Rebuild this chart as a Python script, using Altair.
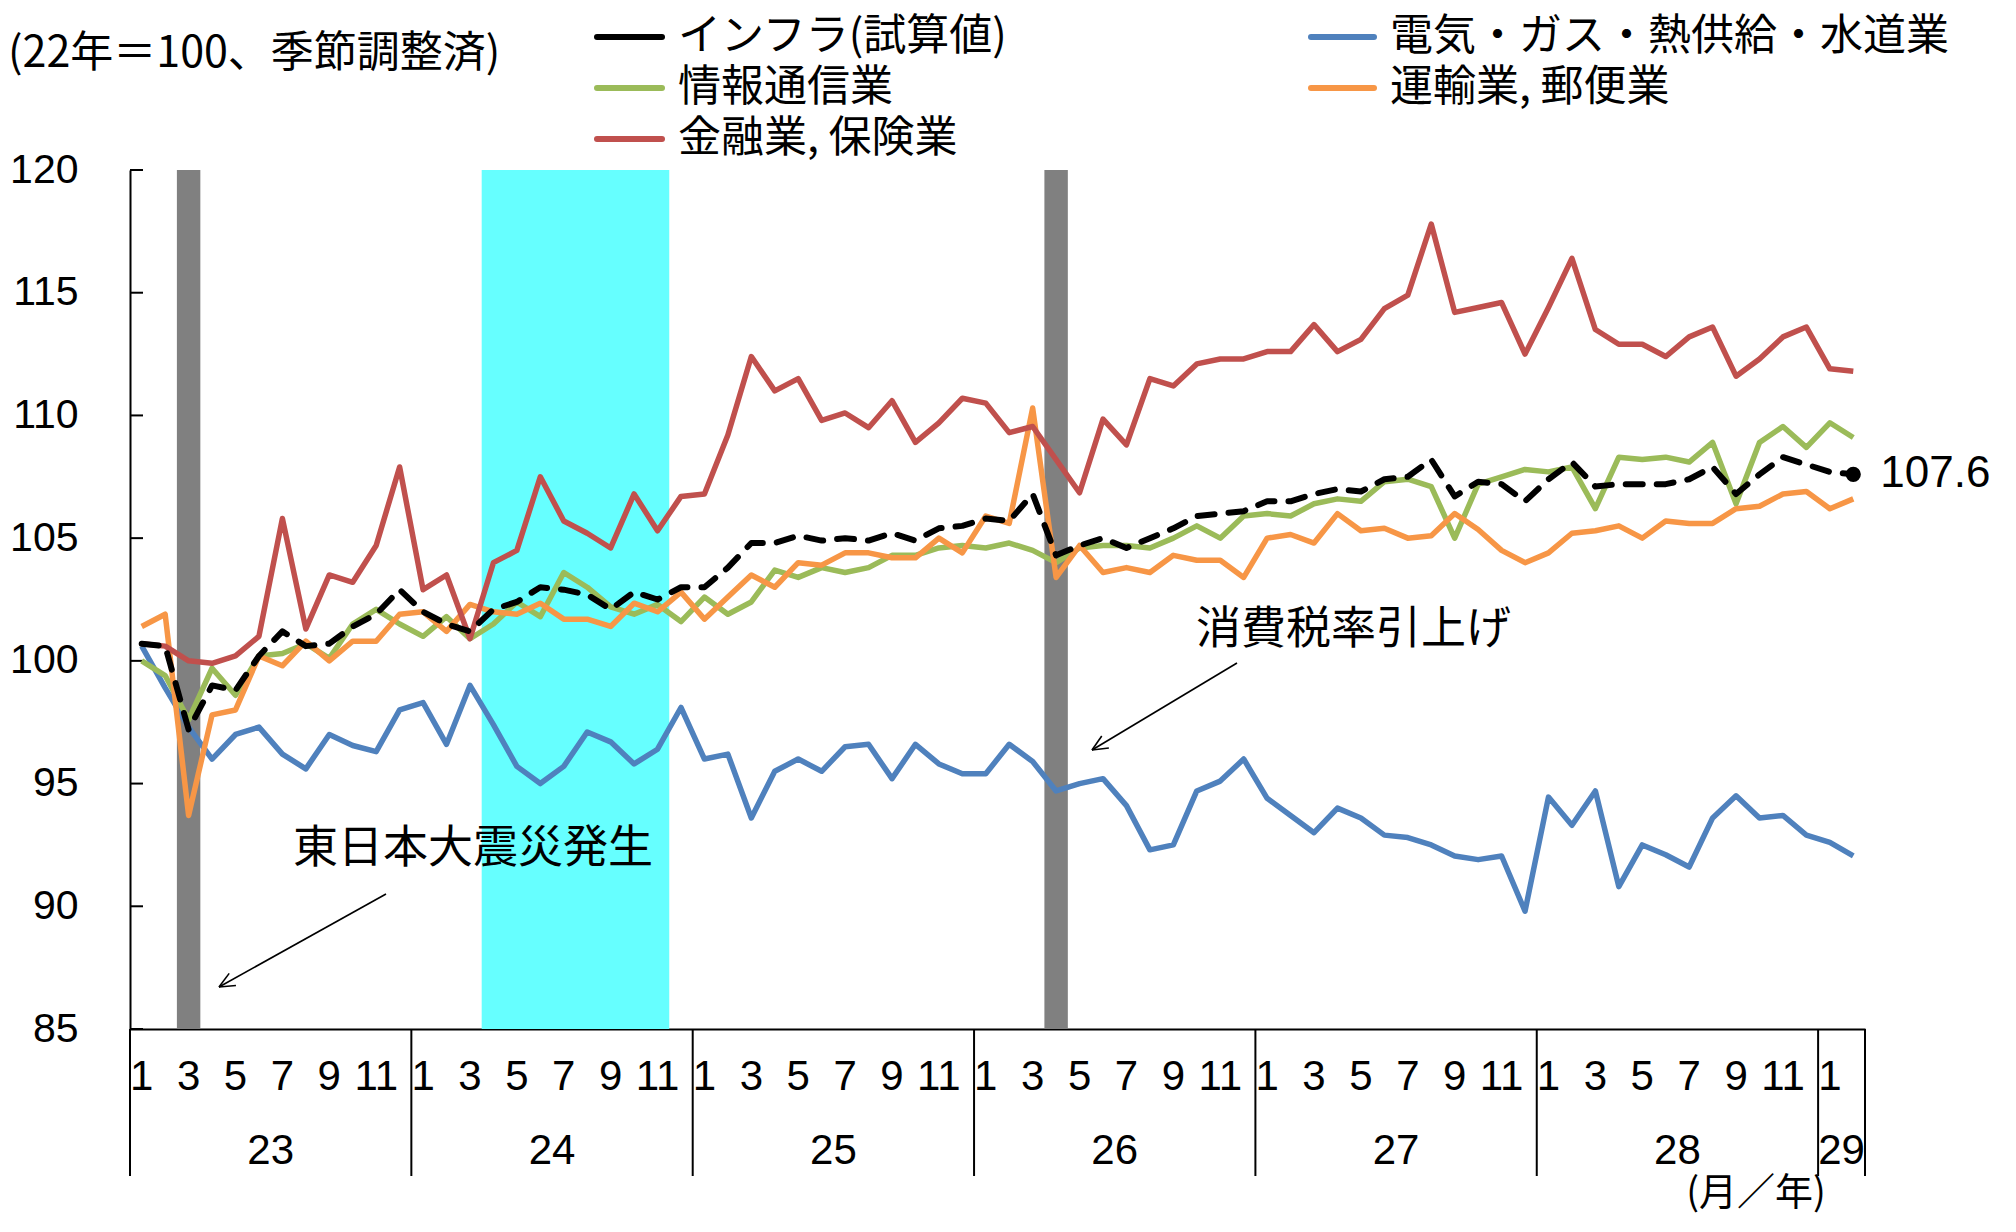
import math
import altair as alt
import pandas as pd

# ---------------- data ----------------
year_labels = ["23", "24", "25", "26", "27", "28", "29"]
month_labels = ["1", "3", "5", "7", "9", "11"]
y_ticks = [85, 90, 95, 100, 105, 110, 115, 120]

series_names = ["インフラ(試算値)", "電気・ガス・熱供給・水道業", "情報通信業",
                "運輸業, 郵便業", "金融業, 保険業"]

infra = [100.7, 100.6, 97.2, 99.0, 98.8, 100.2, 101.2, 100.6, 100.7, 101.4, 101.9, 102.9,
         102.0, 101.5, 101.2, 102.1, 102.4, 103.0, 102.9, 102.7, 102.1, 102.8, 102.5, 103.0,
         103.0, 103.8, 104.8, 104.8, 105.1, 104.9, 105.0, 104.9, 105.2, 104.9, 105.4, 105.5,
         105.8, 105.7, 106.8, 104.3, 104.7, 105.0, 104.6, 105.0, 105.4, 105.9, 106.0, 106.1,
         106.5, 106.5, 106.8, 107.0, 106.9, 107.4, 107.5, 108.2, 106.7, 107.3, 107.2, 106.5,
         107.4, 108.1, 107.1, 107.2, 107.2, 107.2, 107.4, 107.9, 106.8, 107.6, 108.3, 108.0,
         107.7, 107.6]
utilities = [100.6, 98.9, 97.3, 96.0, 97.0, 97.3, 96.2, 95.6, 97.0, 96.55, 96.3, 98.0,
             98.3, 96.6, 99.0, 97.4, 95.7, 95.0, 95.7, 97.1, 96.7, 95.8, 96.4, 98.1,
             96.0, 96.2, 93.6, 95.5, 96.0, 95.5, 96.5, 96.6, 95.2, 96.6, 95.8, 95.4,
             95.4, 96.6, 95.9, 94.7, 95.0, 95.2, 94.1, 92.3, 92.5, 94.7, 95.1, 96.0,
             94.4, 93.7, 93.0, 94.0, 93.6, 92.9, 92.8, 92.5, 92.05, 91.9, 92.05, 89.8,
             94.45, 93.3, 94.7, 90.8, 92.5, 92.1, 91.6, 93.6, 94.5, 93.6, 93.7, 92.9,
             92.6, 92.05]
ict = [100.0, 99.4, 97.6, 99.7, 98.6, 100.2, 100.3, 100.7, 100.1, 101.5, 102.1, 101.5,
       101.0, 101.8, 100.9, 101.5, 102.4, 101.8, 103.6, 103.0, 102.2, 101.9, 102.3, 101.6,
       102.6, 101.9, 102.4, 103.7, 103.4, 103.8, 103.6, 103.8, 104.3, 104.3, 104.6, 104.7,
       104.6, 104.8, 104.5, 104.0, 104.6, 104.7, 104.7, 104.6, 105.0, 105.5, 105.0, 105.9,
       106.0, 105.9, 106.4, 106.6, 106.5, 107.3, 107.4, 107.1, 105.0, 107.2, 107.5, 107.8,
       107.7, 107.9, 106.2, 108.3, 108.2, 108.3, 108.1, 108.9, 106.4, 108.9, 109.55, 108.7,
       109.7, 109.1]
transport = [101.4, 101.9, 93.7, 97.8, 98.0, 100.2, 99.8, 100.8, 100.0, 100.8, 100.8, 101.9,
             102.0, 101.2, 102.3, 102.0, 101.9, 102.35, 101.7, 101.7, 101.4, 102.35, 102.0, 102.8,
             101.7, 102.6, 103.5, 103.0, 104.0, 103.9, 104.4, 104.4, 104.2, 104.2, 105.0, 104.4,
             105.9, 105.6, 110.3, 103.4, 104.7, 103.6, 103.8, 103.6, 104.3, 104.1, 104.1, 103.4,
             105.0, 105.15, 104.8, 106.0, 105.3, 105.4, 105.0, 105.1, 106.0, 105.35, 104.5, 104.0,
             104.4, 105.2, 105.3, 105.5, 105.0, 105.7, 105.6, 105.6, 106.2, 106.3, 106.8, 106.9,
             106.2, 106.6]
finance = [100.7, 100.6, 100.0, 99.9, 100.2, 101.0, 105.8, 101.3, 103.5, 103.2, 104.7, 107.9,
           102.9, 103.5, 100.9, 104.0, 104.5, 107.5, 105.7, 105.2, 104.6, 106.8, 105.3, 106.7,
           106.8, 109.2, 112.4, 111.0, 111.5, 109.8, 110.1, 109.5, 110.6, 108.9, 109.7, 110.7,
           110.5, 109.3, 109.55, 108.2, 106.85, 109.85, 108.8, 111.5, 111.2, 112.1, 112.3, 112.3,
           112.6, 112.6, 113.7, 112.6, 113.1, 114.35, 114.9, 117.8, 114.2, 114.4, 114.6, 112.5,
           114.4, 116.4, 113.5, 112.9, 112.9, 112.4, 113.2, 113.6, 111.6, 112.3, 113.2, 113.6,
           111.9, 111.8]

shock_months = [2, 39]          # 2011/3 and 2014/4 (month index from 2011/1)
recession = (15, 23)            # 2012/4 - 2012/11

colors = ["#000000", "#4F81BD", "#9BBB59", "#F79646", "#C0504D"]

# ---------------- layout ----------------
W, H = 1735, 859
N = len(infra)
JP = "Noto Sans CJK JP"
NUM = "Liberation Sans"

rows = []
for name, vals in zip(series_names, [infra, utilities, ict, transport, finance]):
    for i, v in enumerate(vals):
        rows.append({"series": name, "idx": i, "x": i + 0.5, "value": v})
df = pd.DataFrame(rows)

xs = alt.Scale(domain=[0, N], nice=False, zero=False)
ys = alt.Scale(domain=[85, 120], nice=False, zero=False)
xaxis = alt.Axis(labels=False, ticks=False, tickSize=0, grid=False, domain=True,
                 domainColor="black", domainWidth=2, title=None)
yaxis = alt.Axis(values=y_ticks, ticks=False, tickSize=0, grid=False, domain=True,
                 domainColor="black", domainWidth=2, title=None, labelFont=NUM,
                 labelFontSize=41, labelColor="black", labelPadding=52)

layers = []

# shaded periods
bands = pd.DataFrame(
    [{"start": m, "end": m + 1, "kind": "shock"} for m in shock_months]
    + [{"start": recession[0], "end": recession[1], "kind": "recession"}]
)
layers.append(
    alt.Chart(bands).mark_rect().encode(
        x=alt.X("start:Q", scale=xs, axis=xaxis), x2="end:Q",
        y=alt.value(0), y2=alt.value(H),
        color=alt.Color("kind:N", scale=alt.Scale(domain=["shock", "recession"],
                                                   range=["#808080", "#66FFFF"]), legend=None),
    )
)

# year separators below axis
bounds = pd.DataFrame({"b": [12 * k for k in range(len(year_labels))] + [N]})
layers.append(
    alt.Chart(bounds).mark_rule(color="black", strokeWidth=2).encode(
        x=alt.X("b:Q", scale=xs, axis=xaxis), y=alt.value(H), y2=alt.value(1006)
    )
)

# inward y ticks
ticks_df = pd.DataFrame({"v": y_ticks})
layers.append(
    alt.Chart(ticks_df).mark_rule(color="black", strokeWidth=2).encode(
        x=alt.value(0), x2=alt.value(13), y=alt.Y("v:Q", scale=ys, axis=yaxis)
    )
)

# month labels
mrows = []
for i in range(N):
    m = i % 12 + 1
    if str(m) in month_labels:
        mrows.append({"x": i + 0.5, "label": str(m)})
layers.append(
    alt.Chart(pd.DataFrame(mrows)).mark_text(font=NUM, fontSize=42, color="black",
                                             baseline="middle", align="center").encode(
        x=alt.X("x:Q", scale=xs, axis=xaxis), y=alt.value(907), text="label:N"
    )
)

# year labels
yrows = []
for k, lab in enumerate(year_labels):
    s, e = 12 * k, min(12 * (k + 1), N)
    yrows.append({"x": (s + e) / 2, "label": lab})
layers.append(
    alt.Chart(pd.DataFrame(yrows)).mark_text(font=NUM, fontSize=42, color="black",
                                             baseline="middle", align="center").encode(
        x=alt.X("x:Q", scale=xs, axis=xaxis), y=alt.value(981), text="label:N"
    )
)

# series lines (draw order: utilities, ict, transport, finance, infra)
for si in [1, 2, 3, 4, 0]:
    name = series_names[si]
    kw = dict(color=colors[si], strokeWidth=5.5, strokeJoin="round")
    if si == 0:
        kw.update(strokeDash=[17, 14], strokeCap="round", strokeWidth=6)
    layers.append(
        alt.Chart(df).transform_filter(alt.datum.series == name).mark_line(**kw).encode(
            x=alt.X("x:Q", scale=xs, axis=xaxis), y=alt.Y("value:Q", scale=ys, axis=yaxis),
            order="idx:Q",
        )
    )

# last point of infra + label
last = df[(df.series == series_names[0]) & (df.idx == N - 1)]
layers.append(
    alt.Chart(last).mark_point(filled=True, color="black", size=230, opacity=1).encode(
        x=alt.X("x:Q", scale=xs, axis=xaxis), y=alt.Y("value:Q", scale=ys, axis=yaxis)
    )
)
layers.append(
    alt.Chart(last).mark_text(font="Liberation Sans", fontSize=44, color="black", align="left",
                              baseline="middle", dx=27).encode(
        x=alt.X("x:Q", scale=xs, axis=xaxis), y=alt.Y("value:Q", scale=ys, axis=yaxis),
        text=alt.Text("value:Q", format=".1f"),
    )
)

one = pd.DataFrame({"k": [0]})


def text_layer(txt, x, y, size=45, align="left", font=JP):
    return alt.Chart(one).mark_text(font=font, fontSize=size, color="black", align=align,
                                    baseline="middle").encode(
        x=alt.value(x), y=alt.value(y), text=alt.value(txt))


def seg(x0, y0, x1, y1, color="black", width=1.6, cap="butt"):
    return alt.Chart(one).mark_rule(color=color, strokeWidth=width, strokeCap=cap).encode(
        x=alt.value(x0), y=alt.value(y0), x2=alt.value(x1), y2=alt.value(y1))


# legend
leg_pos = {0: (467, 532, 548, -133), 1: (1181, 1244, 1260, -133),
           2: (467, 532, 548, -82), 3: (1181, 1244, 1260, -82),
           4: (467, 532, 548, -31)}
for si, (lx0, lx1, tx, ly) in leg_pos.items():
    layers.append(seg(lx0, ly, lx1, ly, color=colors[si], width=6, cap="round"))
    layers.append(text_layer(series_names[si], tx, ly, size=43))

# subtitle & axis unit
layers.append(text_layer("(22年＝100、季節調整済)", -122, -116, size=43))
layers.append(text_layer("(月／年)", 1626, 1024, size=38, align="center"))

# annotations with arrows
layers.append(text_layer("東日本大震災発生", 163, 679))
layers.append(text_layer("消費税率引上げ", 1066, 460))


def arrow(x0, y0, x1, y1):
    out = [seg(x0, y0, x1, y1)]
    ang = math.atan2(y0 - y1, x0 - x1)
    for d in (0.42, -0.42):
        out.append(seg(x1, y1, x1 + 17 * math.cos(ang + d), y1 + 17 * math.sin(ang + d)))
    return out


layers += arrow(256, 724, 89, 817)
layers += arrow(1107, 493, 962, 580)

chart = alt.layer(*layers).properties(
    width=W, height=H,
    padding={"left": 122, "top": 162, "right": 140, "bottom": 190},
    autosize=alt.AutoSizeParams(type="none"),
    background="white",
).configure_view(stroke=None)

chart.save("out.html", embed_options={"renderer": "svg", "actions": False})
